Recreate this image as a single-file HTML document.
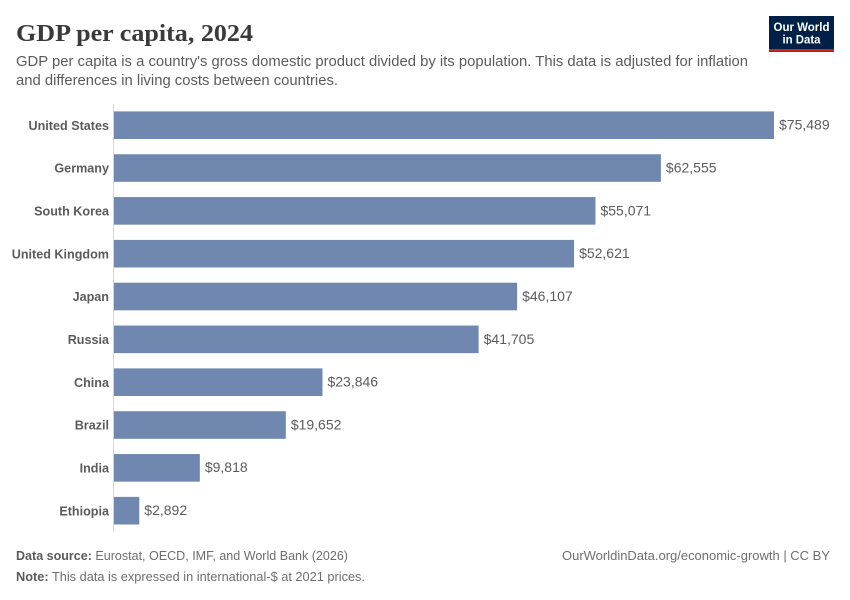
<!DOCTYPE html>
<html lang="en">
<head>
<meta charset="utf-8">
<title>GDP per capita, 2024</title>
<style>
html,body{margin:0;padding:0;background:#fff;}
svg{display:block;}
text{font-family:"Liberation Sans",sans-serif;}
</style>
</head>
<body>
<svg id="chart" xmlns="http://www.w3.org/2000/svg" width="850" height="600" viewBox="0 0 850 600">
  <rect x="0" y="0" width="850" height="600" fill="#ffffff"/>
  <text x="16" y="41" font-size="24" font-weight="700" fill="#3a3a3a" textLength="237" lengthAdjust="spacingAndGlyphs" style="font-family:'Liberation Serif',serif">GDP per capita, 2024</text>
  <text x="16" y="66" font-size="15" fill="#5b5b5b" textLength="732" lengthAdjust="spacingAndGlyphs">GDP per capita is a country's gross domestic product divided by its population. This data is adjusted for inflation</text>
  <text x="16" y="85" font-size="15" fill="#5b5b5b" textLength="322" lengthAdjust="spacingAndGlyphs">and differences in living costs between countries.</text>

  <g>
    <rect x="769" y="16" width="65" height="36" fill="#002147"/>
    <rect x="769" y="49" width="65" height="2.8" fill="#ce261e"/>
    <text x="801.5" y="31" font-size="12" font-weight="700" fill="#ffffff" text-anchor="middle" textLength="56" lengthAdjust="spacingAndGlyphs">Our World</text>
    <text x="801.5" y="43.5" font-size="12" font-weight="700" fill="#ffffff" text-anchor="middle" textLength="38" lengthAdjust="spacingAndGlyphs">in Data</text>
  </g>

  <line x1="113.5" y1="104" x2="113.5" y2="532" stroke="#d6d6d6" stroke-width="1"/>
  <g id="bars"></g>

  <text x="16" y="560" font-size="13" fill="#6e6e6e" textLength="332" lengthAdjust="spacingAndGlyphs"><tspan font-weight="700" fill="#5b5b5b">Data source:</tspan> Eurostat, OECD, IMF, and World Bank (2026)</text>
  <text x="16" y="581" font-size="13" fill="#6e6e6e" textLength="349" lengthAdjust="spacingAndGlyphs"><tspan font-weight="700" fill="#5b5b5b">Note:</tspan> This data is expressed in international-$ at 2021 prices.</text>
  <text x="830" y="560" font-size="13" fill="#6e6e6e" text-anchor="end" textLength="268" lengthAdjust="spacingAndGlyphs">OurWorldinData.org/economic-growth | CC BY</text>
</svg>
<script>
const countries = ["United States", "Germany", "South Korea", "United Kingdom", "Japan", "Russia", "China", "Brazil", "India", "Ethiopia"];
const gdpValues = [75489, 62555, 55071, 52621, 46107, 41705, 23846, 19652, 9818, 2892];

const SVG_NS = "http://www.w3.org/2000/svg";
const domainMax = 75489;
const plotLeft = 114;
const plotWidth = 660;
const firstBarTop = 111.4;
const rowStep = 42.83;
const barHeight = 27.6;

function xScale(value) {
  return plotLeft + (value / domainMax) * plotWidth;
}
function yScale(index) {
  return firstBarTop + index * rowStep;
}
function formatDollars(value) {
  return "$" + value.toLocaleString("en-US");
}

const barsGroup = document.getElementById("bars");
countries.forEach(function (country, i) {
  const value = gdpValues[i];
  const top = yScale(i);
  const mid = top + barHeight / 2;
  const slug = country.toLowerCase().replace(/\s+/g, "-");

  const label = document.createElementNS(SVG_NS, "text");
  
  
  label.setAttribute("x", plotLeft - 5);
  label.setAttribute("y", mid + 4.6);
  label.setAttribute("text-anchor", "end");
  label.setAttribute("font-size", "12.6");
  label.setAttribute("font-weight", "700");
  label.setAttribute("fill", "#5b5b5b");
  label.textContent = country;
  barsGroup.appendChild(label);

  const bar = document.createElementNS(SVG_NS, "rect");
  
  
  bar.setAttribute("x", plotLeft);
  bar.setAttribute("y", top);
  bar.setAttribute("width", xScale(value) - plotLeft);
  bar.setAttribute("height", barHeight);
  bar.setAttribute("fill", "#7088b0");
  barsGroup.appendChild(bar);

  const valueLabel = document.createElementNS(SVG_NS, "text");
  
  
  valueLabel.setAttribute("x", xScale(value) + 5);
  valueLabel.setAttribute("y", mid + 4.4);
  valueLabel.setAttribute("font-size", "14");
  valueLabel.setAttribute("fill", "#5b5b5b");
  valueLabel.textContent = formatDollars(value);
  barsGroup.appendChild(valueLabel);
});
</script>
</body>
</html>
